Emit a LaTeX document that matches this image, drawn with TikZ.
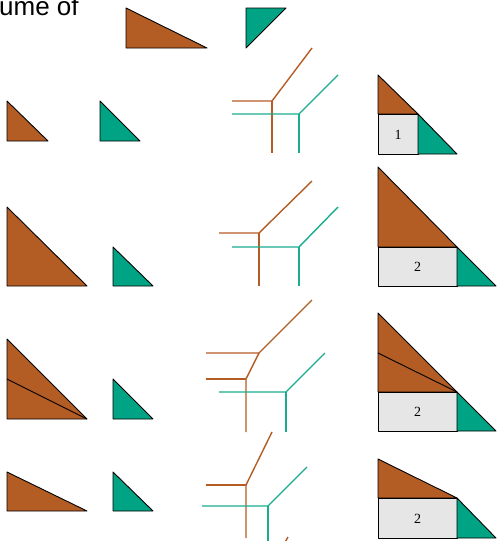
\documentclass[tikz,border=0pt]{standalone}
\usepackage{fontspec}
\setmainfont{Liberation Sans}
\newfontfamily\serifnum{Liberation Serif}
\usetikzlibrary{positioning}
\definecolor{rust}{HTML}{B35C24}
\definecolor{jade}{HTML}{00A383}
\definecolor{cellgray}{HTML}{E6E6E6}
\tikzset{
  tri/.style  = {draw=black, line width=0.9pt, line join=round},
  brn/.style  = {tri, fill=rust},
  grn/.style  = {tri, fill=jade},
  cell/.style = {tri, fill=cellgray},
  rayB/.style = {draw=rust, line width=1.4pt},
  rayG/.style = {draw=jade!90!white, line width=1.4pt},
  num/.style  = {font=\serifnum\fontsize{14}{16}\selectfont, inner sep=0pt},
  every node/.style = {inner sep=0pt}
}

\begin{document}
\begin{tikzpicture}[x=1pt, y=-1pt]  % pixel grid, y downwards
  \useasboundingbox (0,0) rectangle (496,541);

  %  --  Heading (cut off by the page edge) and the two summands
  \node[anchor=base west, font=\fontsize{26}{30}\selectfont] (title) at (-1,15) {ume of};
  \draw[brn] (126,8) -- (126,48) -- (207,48) -- cycle;
  \draw[grn] (246,8) -- (286,8) -- (246,48) -- cycle;

  %  --  Left column: the pairs of polygons
  \draw[brn] (7,101) -- (7,141) -- (48,141) -- cycle;
  \draw[grn] (100,101) -- (100,141) -- (140,141) -- cycle;

  \draw[brn] (7,207) -- (7,286) -- (87,286) -- cycle;
  \draw[grn] (113,247) -- (113,286) -- (153,286) -- cycle;

  \draw[brn] (7,339) -- (7,419) -- (87,419) -- cycle;
  \draw[tri] (7,379) -- (87,419);
  \draw[grn] (113,379) -- (113,419) -- (153,419) -- cycle;

  \draw[brn] (7,472) -- (7,511) -- (87,511) -- cycle;
  \draw[grn] (113,472) -- (113,511) -- (153,511) -- cycle;

  %  --  Middle column: the two curves of each row
  \coordinate (b1) at (272,101);
  \coordinate (g1) at (299,114);
  \draw[rayB] (232,101) -- (b1) -- (312,48);
  \draw[rayB] (b1) -- (272,153);
  \draw[rayG] (232,114) -- (g1) -- (338,75);
  \draw[rayG] (g1) -- (299,153);

  \coordinate (b2) at (259,233);
  \coordinate (g2) at (299,247);
  \draw[rayB] (219,233) -- (b2) -- (312,181);
  \draw[rayB] (b2) -- (259,286);
  \draw[rayG] (232,247) -- (g2) -- (338,207);
  \draw[rayG] (g2) -- (299,286);

  \coordinate (b3) at (259,353);
  \coordinate (b3s) at (246,379);
  \coordinate (g3) at (286,392);
  \draw[rayB] (206,353) -- (b3) -- (312,300);
  \draw[rayB] (b3) -- (b3s) -- (246,432);
  \draw[rayB] (206,379) -- (b3s);
  \draw[rayG] (219,392) -- (g3) -- (325,353);
  \draw[rayG] (g3) -- (286,432);

  \coordinate (b4) at (246,485);
  \coordinate (g4) at (268,506);
  \draw[rayB] (272,432) -- (b4) -- (246,538);
  \draw[rayB] (206,485) -- (b4);
  \draw[rayG] (202,506) -- (g4) -- (307,467);
  \draw[rayG] (g4) -- (268,545);
  \draw[rayB] (284,544) -- (288,537);

  %  --  Right column: the mixed subdivisions
  \draw[brn] (378,75) -- (378,114) -- (418,114) -- cycle;
  \draw[cell] (378,114) rectangle (418,154);
  \draw[grn] (418,114) -- (418,154) -- (457,154) -- cycle;
  \node[num] (cellA) at (398,135) {1};

  \draw[brn] (378,167) -- (378,247) -- (457,247) -- cycle;
  \draw[cell] (378,247) rectangle (457,286);
  \draw[grn] (457,247) -- (457,286) -- (496,286) -- cycle;
  \node[num] (cellB) at (417.5,267) {2};

  \draw[brn] (378,313) -- (378,392) -- (457,392) -- cycle;
  \draw[tri] (378,353) -- (457,392);
  \draw[cell] (378,392) rectangle (457,431);
  \draw[grn] (457,392) -- (457,431) -- (496,431) -- cycle;
  \node[num] (cellC) at (417.5,412) {2};

  \draw[brn] (378,459) -- (378,498) -- (457,498) -- cycle;
  \draw[cell] (378,498) rectangle (457,538);
  \draw[grn] (457,498) -- (457,538) -- (496,538) -- cycle;
  \node[num] (cellD) at (417.5,519) {2};
\end{tikzpicture}
\end{document}
